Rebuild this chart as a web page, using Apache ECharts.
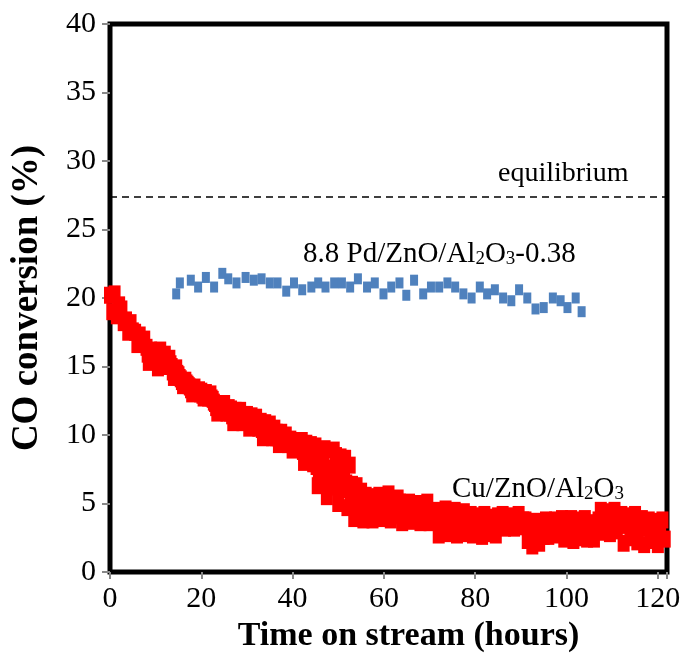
<!DOCTYPE html>
<html>
<head>
<meta charset="utf-8">
<script src="https://cdn.jsdelivr.net/npm/echarts@6/dist/echarts.min.js"></script>
<style>
html,body{margin:0;padding:0;background:#fff;}
#chart{width:688px;height:668px;}
</style>
</head>
<body>
<div id="chart"></div>
<script>
// Axis settings
const xTicks = [0, 20, 40, 60, 80, 100, 120];
const yTicks = [0, 5, 10, 15, 20, 25, 30, 35, 40];
const equilibriumValue = 27.37;

// 8.8 Pd/ZnO/Al2O3-0.38 : [time (h), CO conversion (%)]
const pdPoints = [
  [14.5,20.3],[15.3,21.1],[17.7,21.3],[19.3,20.8],[21.0,21.5],[22.8,20.8],[24.6,21.8],[25.9,21.4],
  [27.7,21.1],[29.7,21.5],[31.5,21.3],[33.2,21.4],[35.0,21.1],[36.7,21.1],[38.6,20.5],[40.3,21.1],
  [42.1,20.6],[44.1,20.8],[45.6,21.1],[47.2,20.8],[49.1,21.1],[50.8,21.1],[52.6,20.8],[54.3,21.4],
  [56.3,20.8],[58.0,21.1],[59.9,20.3],[61.6,20.8],[63.4,21.1],[64.9,20.2],[66.6,21.3],[68.6,20.3],
  [70.3,20.8],[72.1,20.8],[73.9,21.1],[75.6,20.8],[77.4,20.3],[79.2,20.0],[81.0,20.8],[82.6,20.3],
  [84.3,20.6],[86.1,20.0],[87.9,19.8],[89.6,20.6],[91.4,20.0],[93.2,19.2],[95.0,19.3],[97.0,20.0],
  [98.7,19.8],[100.2,19.3],[102.0,20.0],[103.3,19.0]
];

// Cu/ZnO/Al2O3 : [time (h), CO conversion (%)]
const cuPoints = [
  [0,20.2],[0.5,19.0],[1,20.3],[1.5,18.7],[2,19.5],[2.5,19.2],[3,18.2],[3.5,18.4],[4,17.5],[4.5,18.2],
  [5,17.6],[5.5,17.5],[6,16.6],[6.5,17.3],[7,16.8],[7.5,17.0],[8,16.4],[8.5,15.3],[9,16.2],[9.5,15.5],
  [10,16.1],[10.5,14.9],[11,16.2],[11.5,15.2],[12,15.9],[12.5,15.0],[13,15.6],[13.5,15.0],[14,14.2],[14.5,14.9],
  [15,14.4],[15.5,14.1],[16,13.6],[16.5,14.0],[17,13.7],[17.5,13.5],[18,13.0],[18.5,13.5],[19,13.1],[19.5,13.3],
  [20,13.2],[20.5,12.7],[21,13.1],[21.5,12.7],[22,13.0],[22.5,12.6],[23,12.3],[23.5,11.6],[24,12.2],[24.5,11.7],
  [25,12.3],[25.5,11.6],[26,12.0],[26.5,11.9],[27,10.9],[27.5,11.8],[28,11.2],[28.5,11.8],[29,10.9],[29.5,11.5],
  [30,11.5],[30.5,10.5],[31,11.4],[31.5,10.6],[32,11.3],[32.5,10.5],[33,11.0],[33.5,9.8],[34,10.9],[34.5,10.2],
  [35,10.8],[35.5,9.8],[36,10.5],[36.5,10.2],[37,9.3],[37.5,10.2],[38,9.5],[38.5,10.0],[39,9.3],[39.5,9.7],
  [40,8.9],[40.5,9.6],[41,9.0],[41.5,9.5],[42,9.6],[42.5,8.0],[43,9.4],[43.5,8.5],[44,9.3],[44.5,7.9],
  [45,9.2],[45.5,6.3],[46,8.8],[46.5,6.5],[47,9.0],[47.5,5.5],[48,7.6],[48.5,6.2],[49,8.9],[49.5,8.5],
  [50,5.0],[50.5,8.4],[51,6.1],[51.5,8.3],[52,4.7],[52.5,7.8],[53,6.4],[53.5,3.9],[54,6.3],[54.5,4.5],
  [55,5.9],[55.5,3.8],[56,5.6],[56.5,4.2],[57,5.5],[57.5,3.8],[58,5.2],[58.5,4.3],[59,5.6],[59.5,3.9],
  [60,5.0],[60.5,4.5],[61,5.7],[61.5,3.8],[62,4.9],[62.5,4.1],[63,5.4],[63.5,5.1],[64,3.6],[64.5,4.8],
  [65,4.0],[65.5,5.1],[66,3.7],[66.5,4.6],[67,4.2],[67.5,5.0],[68,3.6],[68.5,4.5],[69,3.9],[69.5,5.1],
  [70,3.6],[70.5,4.4],[71,3.8],[71.5,4.5],[72,2.7],[72.5,4.2],[73,3.3],[73.5,4.6],[74,2.8],[74.5,3.9],
  [75,3.2],[75.5,4.5],[76,2.7],[76.5,3.7],[77,3.1],[77.5,4.4],[78,2.8],[78.5,3.6],[79,4.2],[79.5,2.7],
  [80,3.5],[80.5,4.1],[81,3.0],[81.5,2.6],[82,4.2],[82.5,3.2],[83,2.8],[83.5,4.0],[84,3.3],[84.5,2.7],
  [85,4.1],[85.5,3.4],[86,4.2],[86.5,3.2],[87,3.9],[87.5,3.3],[88,4.1],[88.5,3.2],[89,3.7],[89.5,4.2],
  [90,3.3],[90.5,3.8],[91,3.8],[91.5,2.3],[92,3.4],[92.5,1.9],[93,2.9],[93.5,3.7],[94,2.1],[94.5,3.2],
  [95,2.6],[95.5,3.8],[96,2.6],[96.5,3.4],[97,2.8],[97.5,3.8],[98,2.7],[98.5,3.3],[99,3.9],[99.5,2.4],
  [100,3.4],[100.5,2.8],[101,3.9],[101.5,2.3],[102,3.2],[102.5,3.8],[103,2.5],[103.5,3.3],[104,3.9],[104.5,2.4],
  [105,3.1],[105.5,3.6],[106,2.4],[106.5,3.2],[107,3.8],[107.5,4.5],[108,2.9],[108.5,3.9],[109,4.4],[109.5,2.8],
  [110,3.6],[110.5,4.5],[111,3.0],[111.5,3.8],[112,4.2],[112.5,2.1],[113,3.4],[113.5,4.1],[114,2.5],[114.5,3.0],
  [115,4.2],[115.5,2.2],[116,3.3],[116.5,3.9],[117,2.0],[117.5,3.2],[118,3.8],[118.5,2.3],[119,2.9],[119.5,3.7],
  [120,2.0],[120.5,3.1],[121,3.8],[121.5,2.4]
];

// Cu/ZnO/Al2O3 : intermediate readings, 8-56 h
const cuPointsMid = [
  [8.25,15.9],[8.75,15.8],[9.25,15.8],[9.75,15.7],[10.25,15.6],[10.75,15.6],[11.25,15.5],[11.75,15.5],
  [12.25,15.4],[12.75,15.3],[13.25,15.2],[13.75,14.6],[14.25,14.6],[14.75,14.5],[15.25,14.2],[15.75,13.9],
  [16.25,13.8],[16.75,13.8],[17.25,13.6],[17.75,13.3],[18.25,13.2],[18.75,13.2],[19.25,13.1],[19.75,13.0],
  [20.25,12.9],[20.75,12.9],[21.25,12.8],[21.75,12.8],[22.25,12.7],[22.75,12.4],[23.25,12.0],[23.75,11.9],
  [24.25,11.9],[24.75,11.9],[25.25,11.9],[25.75,11.8],[26.25,11.6],[26.75,11.4],[27.25,11.4],[27.75,11.5],
  [28.25,11.5],[28.75,11.3],[29.25,11.2],[29.75,11.0],[30.25,11.0],[30.75,10.9],[31.25,11.0],[31.75,10.9],
  [32.25,10.9],[32.75,10.7],[33.25,10.4],[33.75,10.4],[34.25,10.5],[34.75,10.4],[35.25,10.3],[35.75,10.1],
  [36.25,9.8],[36.75,9.8],[37.25,9.7],[37.75,9.8],[38.25,9.7],[38.75,9.6],[39.25,9.5],[39.75,9.3],
  [40.25,9.2],[40.75,9.3],[41.25,9.2],[41.75,9.0],[42.25,8.8],[42.75,8.7],[43.25,8.9],[43.75,8.8],
  [44.25,8.6],[44.75,8.4],[45.25,7.7],[45.75,7.4],[46.25,7.6],[46.75,7.8],[47.25,7.2],[47.75,6.9],
  [48.25,7.0],[48.75,7.5],[49.25,7.3],[49.75,6.8],[50.25,6.6],[50.75,7.2],[51.25,7.4],[51.75,6.5],
  [52.25,6.0],[52.75,5.6],[53.25,5.2],[53.75,5.0],[54.25,5.3],[54.75,5.0],[55.25,4.7],[55.75,4.6]
];

const serif = '"Liberation Serif", "Times New Roman", serif';
const chart = echarts.init(document.getElementById('chart'), null, {renderer: 'canvas'});

const labelRich = {
  n: {fontFamily: serif, fontSize: 29, color: '#000', lineHeight: 36, verticalAlign: 'bottom'},
  s: {fontFamily: serif, fontSize: 19, color: '#000', lineHeight: 16, verticalAlign: 'bottom'}
};

const redStyle = {color: '#FF0000', opacity: 1};

chart.setOption({
  animation: false,
  backgroundColor: '#fff',
  grid: {left: 110, right: 21, top: 24, bottom: 96, show: true, borderColor: '#000', borderWidth: 5, backgroundColor: 'transparent'},
  xAxis: {
    type: 'value', min: xTicks[0], max: 122, interval: 20,
    axisLine: {show: false},
    axisTick: {show: true, length: 7, lineStyle: {color: '#888', width: 2}},
    splitLine: {show: false},
    axisLabel: {
      fontFamily: serif, fontSize: 30, color: '#000', margin: 12,
      formatter: v => xTicks.indexOf(v) >= 0 ? String(v) : ''
    },
    name: 'Time on stream (hours)', nameLocation: 'middle', nameGap: 38,
    nameTextStyle: {fontFamily: serif, fontSize: 34, fontWeight: 'bold', color: '#000', padding: [0, 0, 0, 40]}
  },
  yAxis: {
    type: 'value', min: yTicks[0], max: yTicks[yTicks.length - 1], interval: 5,
    axisLine: {show: false},
    axisTick: {show: true, length: 8, lineStyle: {color: '#888', width: 2}},
    splitLine: {show: false},
    axisLabel: {fontFamily: serif, fontSize: 30, color: '#000', margin: 14},
    name: 'CO conversion (%)', nameLocation: 'middle', nameGap: 64,
    nameTextStyle: {fontFamily: serif, fontSize: 37, fontWeight: 'bold', color: '#000'}
  },
  series: [
    {
      name: 'Cu/ZnO/Al2O3', type: 'scatter', data: cuPoints,
      symbol: 'rect', symbolSize: [12, 17],
      itemStyle: redStyle,
      markLine: {
        silent: true, symbol: ['none', 'none'],
        label: {show: false},
        lineStyle: {color: '#000', type: [7, 5], width: 1.5},
        data: [{yAxis: equilibriumValue}]
      }
    },
    {
      name: 'Cu/ZnO/Al2O3 (mid)', type: 'scatter', data: cuPointsMid,
      symbol: 'rect', symbolSize: [12, 17],
      itemStyle: redStyle
    },
    {
      name: '8.8 Pd/ZnO/Al2O3-0.38', type: 'scatter', data: pdPoints,
      symbol: 'rect', symbolSize: [8, 11],
      itemStyle: {color: '#4F81BD', opacity: 1}
    }
  ],
  graphic: [
    {type: 'text', left: 498, top: 160, style: {text: 'equilibrium', font: '28px ' + serif, fill: '#000'}},
    {type: 'text', left: 303, top: 240, style: {text: '{n|8.8 Pd/ZnO/Al}{s|2}{n|O}{s|3}{n|-0.38}', rich: labelRich}},
    {type: 'text', left: 452, top: 475, style: {text: '{n|Cu/ZnO/Al}{s|2}{n|O}{s|3}', rich: labelRich}}
  ]
});
</script>
</body>
</html>
